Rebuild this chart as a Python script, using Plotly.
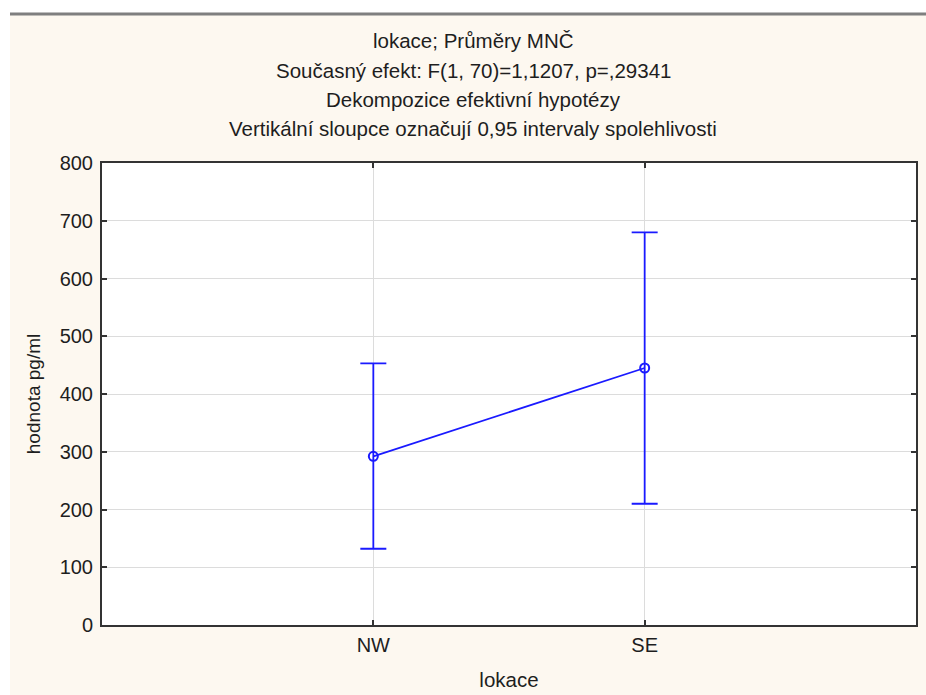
import plotly.graph_objects as go

locations = ["NW", "SE"]
means = [292, 445]
upper_ci = [453, 680]
lower_ci = [132, 210]

title_lines = [
    "lokace; Průměry MNČ",
    "Současný efekt: F(1, 70)=1,1207, p=,29341",
    "Dekompozice efektivní hypotézy",
    "Vertikální sloupce označují 0,95 intervaly spolehlivosti",
]
y_ticks = [0, 100, 200, 300, 400, 500, 600, 700, 800]

W, H = 926, 695
L, R, T, B = 102, 10, 163, 70
pw, ph = W - L - R, H - T - B

def px_x(x):
    return (x - L) / pw

def px_y(y):
    return (H - B - y) / ph

FONT = "Liberation Sans, Arial, sans-serif"
BLUE = "#1a1aff"
CREAM = "#fdf8f0"
TXT = "#1e1e1e"

fig = go.Figure()
fig.add_trace(go.Scatter(
    x=locations,
    y=means,
    mode="lines+markers",
    line=dict(color=BLUE, width=1.8),
    marker=dict(symbol="circle-open", size=9, color=BLUE, line=dict(width=2, color=BLUE)),
    error_y=dict(
        type="data",
        symmetric=False,
        array=[u - m for u, m in zip(upper_ci, means)],
        arrayminus=[m - l for m, l in zip(means, lower_ci)],
        color=BLUE,
        thickness=1.8,
        width=13,
    ),
    showlegend=False,
))

annotations = []
title_y = [40.5, 70, 99.5, 128.5]
for txt, yy in zip(title_lines, title_y):
    annotations.append(dict(
        text=txt, xref="paper", yref="paper", x=px_x(473), y=px_y(yy),
        xanchor="center", yanchor="middle", showarrow=False,
        font=dict(family=FONT, size=20.5, color=TXT),
    ))

shapes = [
    dict(type="rect", xref="paper", yref="paper", x0=px_x(0), x1=px_x(10), y0=px_y(H), y1=px_y(0),
         fillcolor="white", line=dict(width=0), layer="below"),
    dict(type="rect", xref="paper", yref="paper", x0=px_x(0), x1=px_x(W), y0=px_y(13), y1=px_y(0),
         fillcolor="white", line=dict(width=0), layer="below"),
    dict(type="line", xref="paper", yref="paper", x0=px_x(10), x1=px_x(W), y0=px_y(14), y1=px_y(14),
         line=dict(color="#7f7f7f", width=3)),
]

fig.update_layout(
    width=W, height=H,
    margin=dict(l=L, r=R, t=T, b=B, pad=0, autoexpand=False),
    paper_bgcolor=CREAM,
    plot_bgcolor="white",
    font=dict(family=FONT, size=20, color=TXT),
    annotations=annotations,
    shapes=shapes,
    xaxis=dict(
        type="category",
        range=[-1, 2],
        automargin=False,
        showline=True, linecolor="#333333", linewidth=2, mirror="ticks",
        ticks="inside", ticklen=5, tickcolor="#333333", tickwidth=1.5,
        showgrid=True, gridcolor="#dcdcdc", gridwidth=1,
        tickfont=dict(family=FONT, size=20, color=TXT),
        ticklabelstandoff=1,
        title=dict(text="lokace", font=dict(family=FONT, size=20.5, color=TXT), standoff=18),
        zeroline=False,
    ),
    yaxis=dict(
        range=[0, 800],
        tickvals=y_ticks,
        automargin=False,
        showline=True, linecolor="#333333", linewidth=2, mirror="ticks",
        ticks="inside", ticklen=5, tickcolor="#333333", tickwidth=1.5,
        showgrid=True, gridcolor="#dcdcdc", gridwidth=1,
        tickfont=dict(family=FONT, size=20, color=TXT),
        ticklabelstandoff=3,
        title=dict(text="hodnota pg/ml", font=dict(family=FONT, size=19, color=TXT), standoff=14),
        zeroline=False,
    ),
)

fig.write_html(
    "out.html",
    config={"displayModeBar": False},
    post_script="document.body.style.margin='0';document.body.style.padding='0';",
)
